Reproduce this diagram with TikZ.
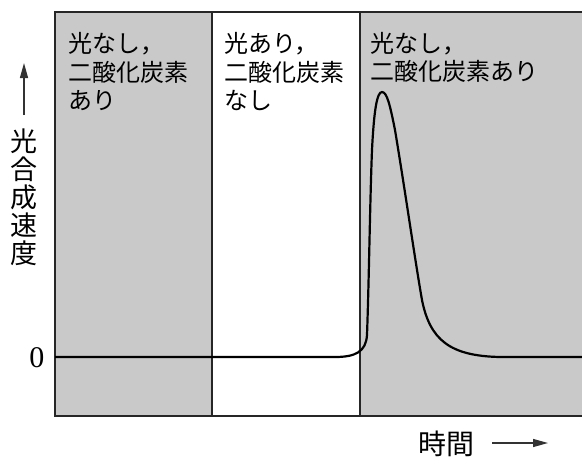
\documentclass[tikz,border=0pt]{standalone}
\usepackage{fontspec}
\newfontfamily\jp{Noto Sans CJK JP}
\newfontfamily\numfont{Liberation Serif}
\usetikzlibrary{arrows.meta}
\definecolor{bggray}{gray}{0.79}
\begin{document}
\begin{tikzpicture}[x=1pt,y=-1pt,
  jptext/.style={font=\jp\fontsize{24}{28}\selectfont, anchor=base west, inner sep=0pt},
  axislabel/.style={font=\jp\fontsize{27}{28}\selectfont, anchor=base, inner sep=0pt},
  frameline/.style={line width=1.4pt, black!85},
  divline/.style={line width=1.1pt, black!85},
  curveline/.style={line width=2.2pt, black},
  axisarrow/.style={line width=1.3pt, black!80, -{Triangle[length=15pt,width=8pt]}}]
\useasboundingbox (0,0) rectangle (582,459);
% shaded regions
\fill[bggray] (55,12) rectangle (212,416);
\fill[bggray] (360,12) rectangle (582,416);
% frame
\draw[frameline] (582,12) -- (55,12) -- (55,416) -- (582,416);
\draw[divline] (212,12) -- (212,416);
\draw[divline] (360,12) -- (360,416);
% curve
\draw[curveline] (55,357) -- (335,357)
  .. controls (355,357) and (366,352) .. (367,335)
  .. controls (369,280) and (370,200) .. (372,150)
  .. controls (374,110) and (377,92) .. (382,92)
  .. controls (387,92) and (390,105) .. (395,130)
  .. controls (405,190) and (415,260) .. (422,300)
  .. controls (430,340) and (450,356) .. (500,357)
  -- (582,357);
% region labels
\node[jptext] (a1) at (68,52) {光なし，};
\node[jptext] (a2) at (68,81) {二酸化炭素};
\node[jptext] (a3) at (68,109) {あり};
\node[jptext] (b1) at (224,52) {光あり，};
\node[jptext] (b2) at (224,81) {二酸化炭素};
\node[jptext] (b3) at (224,109) {なし};
\node[jptext] (c1) at (370,52) {光なし，};
\node[jptext] (c2) at (370,80) {二酸化炭素あり};
% vertical axis
\coordinate (ya) at (24,115);
\coordinate (yb) at (24,63);
\draw[axisarrow] (ya) -- (yb);
\node[axislabel] (v1) at (24,151) {光};
\node[axislabel] (v2) at (24,179) {合};
\node[axislabel] (v3) at (24,207) {成};
\node[axislabel] (v4) at (24,235) {速};
\node[axislabel] (v5) at (24,263) {度};
\node[font=\numfont\fontsize{30}{32}\selectfont, anchor=base, inner sep=0pt] (zero) at (37,367) {0};
% horizontal axis
\node[font=\jp\fontsize{28}{30}\selectfont, anchor=base, inner sep=0pt] (time) at (446,454) {時間};
\coordinate (xa) at (492,443);
\coordinate (xb) at (548,443);
\draw[axisarrow] (xa) -- (xb);
\end{tikzpicture}
\end{document}
